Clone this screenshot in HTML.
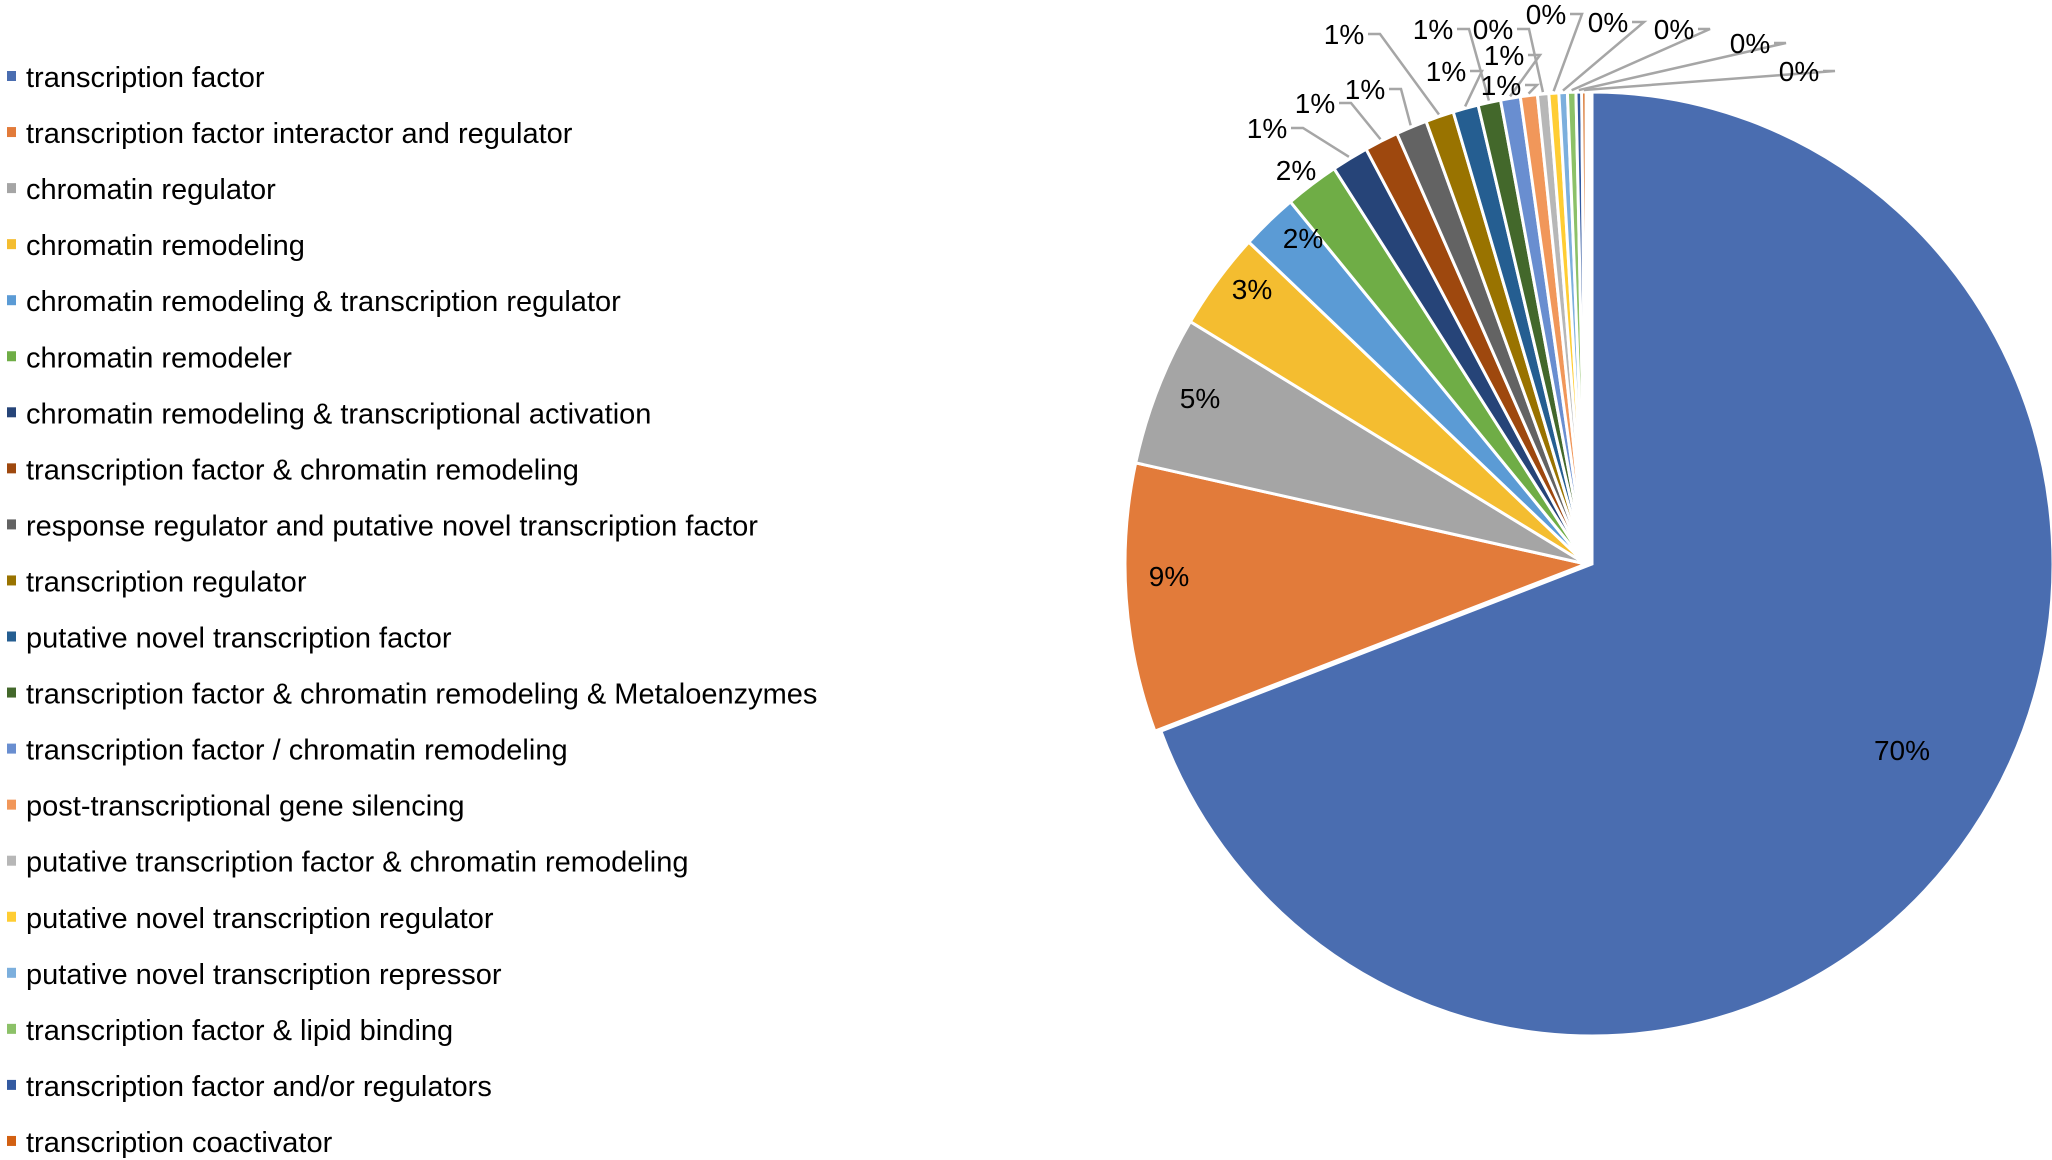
<!DOCTYPE html>
<html><head><meta charset="utf-8"><style>
html,body{margin:0;padding:0;background:#fff;}
svg{display:block;font-family:"Liberation Sans",Arial,sans-serif;}
</style></head><body>
<svg id="chart" width="2052" height="1160" viewBox="0 0 2052 1160" xmlns="http://www.w3.org/2000/svg">
<g id="legend"></g>
<g id="slices"></g>
<g id="labels"></g>
</svg>
<script>
const categories = ["transcription factor","transcription factor interactor and regulator","chromatin regulator","chromatin remodeling","chromatin remodeling & transcription regulator","chromatin remodeler","chromatin remodeling & transcriptional activation","transcription factor & chromatin remodeling","response regulator and putative novel transcription factor","transcription regulator","putative novel transcription factor","transcription factor & chromatin remodeling & Metaloenzymes","transcription factor / chromatin remodeling","post-transcriptional gene silencing","putative transcription factor & chromatin remodeling","putative novel transcription regulator","putative novel transcription repressor","transcription factor & lipid binding","transcription factor and/or regulators","transcription coactivator"];
const values = [70,9.3,5.2,3.4,2.0,1.9,1.3,1.2,1.1,1.0,0.9,0.8,0.7,0.6,0.4,0.35,0.3,0.3,0.2,0.15];
const valueLabels = ["70%","9%","5%","3%","2%","2%","1%","1%","1%","1%","1%","1%","1%","1%","0%","0%","0%","0%","0%","0%"];
const colors = ["#4a6db0","#e27b3a","#a5a5a5","#f4bd30","#5b9bd5","#6fad46","#264478","#9e480e","#636363","#997300","#255e91","#43682b","#698ed0","#f1975a","#b7b7b7","#ffcd33","#7cafdd","#8cc168","#335aa1","#d26012"];
// label layout (positions, not data)
const labelPos = [[1902,750],[1169,576],[1200,398],[1252,289],[1303,238],[1296,170],[1267,128],[1315,103],[1365,89],[1344,34],[1446,71],[1433,29],[1504,55],[1501,85],[1493,29],[1546,14],[1608,22],[1674,29],[1750,43],[1799,71]];
const NS="http://www.w3.org/2000/svg";
const cx=1586, cy=564, RX=461, RY=472;
const total=values.reduce((a,b)=>a+b,0);
const leg=document.getElementById('legend');
categories.forEach((c,i)=>{
  const y=77+i*56.05;
  const r=document.createElementNS(NS,'rect');
  r.setAttribute('x',7);r.setAttribute('y',y-6);r.setAttribute('width',9);r.setAttribute('height',10);r.setAttribute('fill',colors[i]);
  
  
  leg.appendChild(r);
  const t=document.createElementNS(NS,'text');
  t.setAttribute('x',26);t.setAttribute('y',y+10);t.setAttribute('font-size',29);t.setAttribute('fill','#000');
  t.textContent=c;
  
  
  leg.appendChild(t);
});
const sl=document.getElementById('slices');
const lb=document.getElementById('labels');
let a0=0;
values.forEach((v,i)=>{
  const sweep=v/total*2*Math.PI;
  const a1=a0+sweep;
  const ox = i===0?6:0;
  const x0=cx+ox+RX*Math.sin(a0), y0=cy-RY*Math.cos(a0);
  const x1=cx+ox+RX*Math.sin(a1), y1=cy-RY*Math.cos(a1);
  const p=document.createElementNS(NS,'path');
  p.setAttribute('d',`M${cx+ox},${cy} L${x0},${y0} A${RX},${RY} 0 ${sweep>Math.PI?1:0} 1 ${x1},${y1} Z`);
  p.setAttribute('fill',colors[i]);p.setAttribute('stroke','#fff');p.setAttribute('stroke-width',3);
  
  
  sl.appendChild(p);
  const [lx,ly]=labelPos[i];
  if(i>=6){
    const am=(a0+a1)/2;
    const ex=cx+(RX+2)*Math.sin(am), ey=cy-(RY+2)*Math.cos(am);
    const l=document.createElementNS(NS,'polyline');
    l.setAttribute('points',`${lx+24},${ly} ${lx+36},${ly} ${ex},${ey}`);
    l.setAttribute('fill','none');l.setAttribute('stroke','#a6a6a6');l.setAttribute('stroke-width',2.5);
    
    
    lb.appendChild(l);
  }
  const t=document.createElementNS(NS,'text');
  t.setAttribute('x',lx);t.setAttribute('y',ly+10);t.setAttribute('font-size',28);t.setAttribute('text-anchor','middle');t.setAttribute('fill','#000');
  t.textContent=valueLabels[i];
  
  
  lb.appendChild(t);
  a0=a1;
});
</script>
</body></html>
